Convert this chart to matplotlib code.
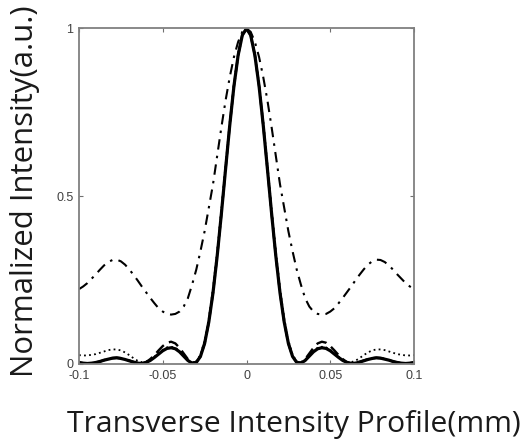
import matplotlib
matplotlib.use('Agg')
import matplotlib.pyplot as plt
import numpy as np

# sample positions (mm)
x_mm = np.round(np.arange(-0.1, 0.10001, 0.0025), 4)

solid = [0.003, 0.001, 0.000, 0.001, 0.003, 0.006, 0.010, 0.013, 0.016, 0.017,
         0.015, 0.012, 0.008, 0.004, 0.001, 0.000, 0.003, 0.009, 0.018, 0.028,
         0.038, 0.045, 0.047, 0.044, 0.035, 0.022, 0.009, 0.001, 0.003, 0.021,
         0.060, 0.124, 0.211, 0.321, 0.447, 0.580, 0.711, 0.828, 0.920, 0.980,
         1.000,
         0.980, 0.920, 0.828, 0.711, 0.580, 0.447, 0.321, 0.211, 0.124, 0.060,
         0.021, 0.003, 0.001, 0.009, 0.022, 0.035, 0.044, 0.047, 0.045, 0.038,
         0.028, 0.018, 0.009, 0.003, 0.000, 0.001, 0.004, 0.008, 0.012, 0.015,
         0.017, 0.016, 0.013, 0.010, 0.006, 0.003, 0.001, 0.000, 0.001, 0.003]

dashed = [0.003, 0.001, 0.000, 0.001, 0.003, 0.006, 0.010, 0.014, 0.016, 0.017,
          0.016, 0.013, 0.009, 0.005, 0.002, 0.001, 0.004, 0.013, 0.025, 0.039,
          0.052, 0.062, 0.065, 0.060, 0.047, 0.030, 0.013, 0.003, 0.004, 0.021,
          0.060, 0.124, 0.211, 0.321, 0.447, 0.580, 0.711, 0.828, 0.920, 0.980,
          1.000,
          0.980, 0.920, 0.828, 0.711, 0.580, 0.447, 0.321, 0.211, 0.124, 0.060,
          0.021, 0.004, 0.003, 0.013, 0.030, 0.047, 0.060, 0.065, 0.062, 0.052,
          0.039, 0.025, 0.013, 0.004, 0.001, 0.002, 0.005, 0.009, 0.013, 0.016,
          0.017, 0.016, 0.014, 0.010, 0.006, 0.003, 0.001, 0.000, 0.001, 0.003]

dotted = [0.025, 0.024, 0.024, 0.026, 0.028, 0.032, 0.036, 0.040, 0.042, 0.042,
          0.039, 0.033, 0.025, 0.016, 0.008, 0.004, 0.005, 0.011, 0.020, 0.031,
          0.041, 0.048, 0.050, 0.047, 0.038, 0.024, 0.011, 0.003, 0.006, 0.026,
          0.069, 0.135, 0.225, 0.336, 0.461, 0.593, 0.722, 0.836, 0.926, 0.981,
          1.000,
          0.981, 0.926, 0.836, 0.722, 0.593, 0.461, 0.336, 0.225, 0.135, 0.069,
          0.026, 0.006, 0.003, 0.011, 0.024, 0.038, 0.047, 0.050, 0.048, 0.041,
          0.031, 0.020, 0.011, 0.005, 0.004, 0.008, 0.016, 0.025, 0.033, 0.039,
          0.042, 0.042, 0.040, 0.036, 0.032, 0.028, 0.026, 0.024, 0.024, 0.025]

dashdot = [0.222, 0.230, 0.240, 0.253, 0.266, 0.280, 0.293, 0.303, 0.309, 0.310,
           0.305, 0.295, 0.281, 0.265, 0.248, 0.230, 0.213, 0.196, 0.180, 0.165,
           0.155, 0.148, 0.146, 0.148, 0.155, 0.170, 0.195, 0.235, 0.280, 0.335,
           0.395, 0.465, 0.535, 0.620, 0.705, 0.785, 0.855, 0.915, 0.960, 0.990,
           1.000,
           0.990, 0.960, 0.915, 0.855, 0.785, 0.705, 0.620, 0.535, 0.465, 0.395,
           0.335, 0.280, 0.235, 0.195, 0.170, 0.155, 0.148, 0.146, 0.148, 0.155,
           0.165, 0.180, 0.196, 0.213, 0.230, 0.248, 0.265, 0.281, 0.295, 0.305,
           0.310, 0.309, 0.303, 0.293, 0.280, 0.266, 0.253, 0.240, 0.230, 0.222]

x_ticks = [-0.1, -0.05, 0, 0.05, 0.1]
x_tick_labels = ["-0.1", "-0.05", "0", "0.05", "0.1"]
y_ticks = [0, 0.5, 1]
y_tick_labels = ["0", "0.5", "1"]

W, H = 523, 440
fig = plt.figure(figsize=(W / 100, H / 100), dpi=100)
left, right, top, bottom = 79, 414, 28.5, 363.5
ax = fig.add_axes([left / W, 1 - bottom / H, (right - left) / W, (bottom - top) / H])

ax.plot(x_mm, dashdot, color='black', lw=1.5, linestyle=(0, (5, 3, 1.2, 3)))
ax.plot(x_mm, dotted, color='black', lw=1.3, linestyle=(0, (1, 1.8)))
ax.plot(x_mm, dashed, color='black', lw=1.7, linestyle=(0, (4.5, 2.5)))
ax.plot(x_mm, solid, color='black', lw=2.3, linestyle='-')

ax.set_xlim(-0.1, 0.1)
ax.set_ylim(0, 1)
ax.set_xticks(x_ticks)
ax.set_xticklabels(x_tick_labels)
ax.set_yticks(y_ticks)
ax.set_yticklabels(y_tick_labels)
ax.tick_params(direction='in', length=3, width=0.8, color='#707070',
               labelcolor='#404040', labelsize=9, top=True, right=True)
ax.tick_params(axis='x', pad=5)
ax.tick_params(axis='y', pad=4)
for lab in ax.get_xticklabels() + ax.get_yticklabels():
    lab.set_family('Liberation Sans')
for sp in ax.spines.values():
    sp.set_color('#808080')
    sp.set_linewidth(1.3)

fig.text(294 / W, 1 - 431.5 / H, "Transverse Intensity Profile(mm)",
         ha='center', va='baseline', fontsize=21.6, family='Open Sans', color='#1a1a1a')
fig.text(33 / W, 1 - 191 / H, "Normalized Intensity(a.u.)", rotation=90,
         rotation_mode='anchor', ha='center', va='baseline', fontsize=22.4,
         family='Open Sans', color='#1a1a1a')

fig.savefig('out.png', dpi=100)
